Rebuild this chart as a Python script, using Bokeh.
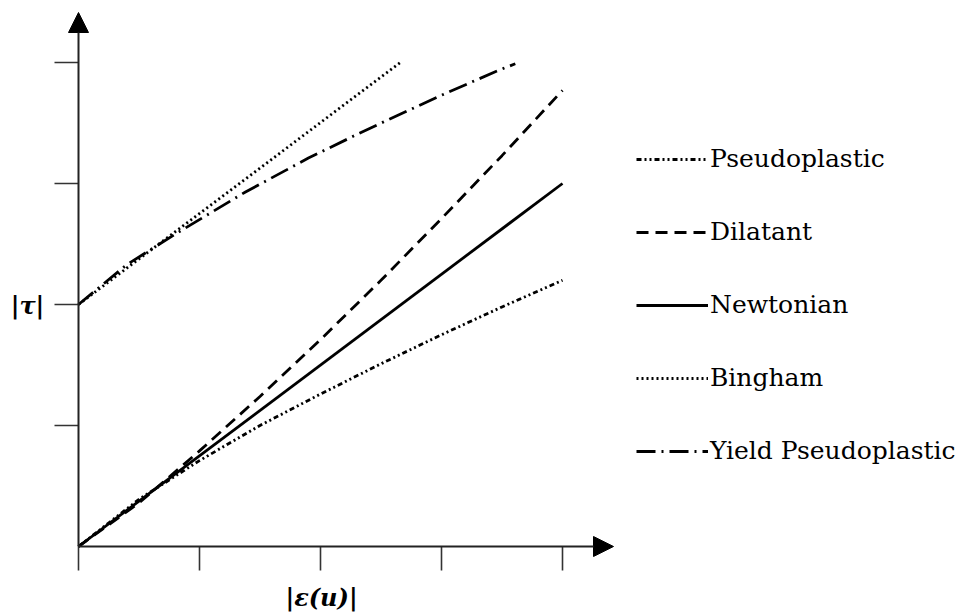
from bokeh.plotting import figure
from bokeh.models import Range1d, FixedTicker, Arrow, NormalHead, Label, Legend, LegendItem
from bokeh.embed import file_html
from bokeh.resources import INLINE

# ---- data (units of tick spacing) ----
newt_x = [0.0, 4.0]
newt_y = [0.0, 3.0]

dil_x = [0.0, 0.5, 1.0, 1.5, 2.0, 2.5, 3.0, 3.5, 4.0]
dil_y = [0.0, 0.36, 0.79, 1.24, 1.71, 2.20, 2.71, 3.23, 3.77]

pseudo_x = [0.0, 0.5, 1.0, 1.5, 2.0, 2.5, 3.0, 3.5, 4.0]
pseudo_y = [0.0, 0.39, 0.71, 1.0, 1.26, 1.51, 1.75, 1.98, 2.2]

bing_x = [0.0, 2.66]
bing_y = [2.0, 4.0]

ypseudo_x = [0.0, 0.4, 0.83, 1.38, 1.9, 2.29, 2.48, 3.0, 3.46, 3.61]
ypseudo_y = [2.0, 2.33, 2.6, 2.93, 3.21, 3.40, 3.49, 3.73, 3.93, 3.99]

x_ticks = [0, 1, 2, 3, 4]
y_ticks = [1, 2, 3, 4]

UNIT = 121.0
p = figure(width=968, height=612, output_backend="svg", toolbar_location=None,
           x_range=Range1d(-78 / UNIT, 890 / UNIT), y_range=Range1d(-66 / UNIT, 546 / UNIT),
           min_border=0)
p.outline_line_color = None
p.grid.visible = False
p.background_fill_color = "white"
p.border_fill_color = "white"

for ax, ticks in ((p.xaxis[0], x_ticks), (p.yaxis[0], y_ticks)):
    ax.fixed_location = 0
    ax.ticker = FixedTicker(ticks=ticks)
    ax.axis_line_color = None
    ax.major_tick_out = 24
    ax.major_tick_in = 0
    ax.major_tick_line_color = "#333333"
    ax.major_tick_line_width = 1.6
    ax.minor_tick_line_color = None
    ax.major_label_text_font_size = "0px"
    ax.major_label_text_alpha = 0

ink = "black"
lw = 2.8
r_pseudo = p.line(pseudo_x, pseudo_y, line_color=ink, line_width=lw, line_dash="5 3 2 3 2 3")
r_dil = p.line(dil_x, dil_y, line_color=ink, line_width=lw, line_dash="12 7")
r_newt = p.line(newt_x, newt_y, line_color=ink, line_width=lw)
r_bing = p.line(bing_x, bing_y, line_color=ink, line_width=lw, line_dash="2 3")
r_yp = p.line(ypseudo_x, ypseudo_y, line_color=ink, line_width=lw, line_dash="19 6 2 6")

# axes arrows
p.add_layout(Arrow(x_start=0, y_start=0, x_end=535 / UNIT, y_end=0, line_color="#222222", line_width=2,
                   end=NormalHead(size=20, fill_color="black", line_color="black", line_width=1)))
p.add_layout(Arrow(x_start=0, y_start=0, x_end=0, y_end=534 / UNIT, line_color="#222222", line_width=2,
                   end=NormalHead(size=20, fill_color="black", line_color="black", line_width=1)))

p.add_layout(Label(x=243 / UNIT, y=-51 / UNIT, text="|ε(u)|", text_font="DejaVu Serif",
                   text_font_style="bold italic", text_font_size="24px", text_color="black",
                   text_align="center", text_baseline="middle"))
p.add_layout(Label(x=-51 / UNIT, y=241 / UNIT, text="|τ|", text_font="DejaVu Serif",
                   text_font_style="bold italic", text_font_size="24px", text_color="black",
                   text_align="center", text_baseline="middle"))

legend = Legend(items=[
    LegendItem(label="Pseudoplastic", renderers=[r_pseudo]),
    LegendItem(label="Dilatant", renderers=[r_dil]),
    LegendItem(label="Newtonian", renderers=[r_newt]),
    LegendItem(label="Bingham", renderers=[r_bing]),
    LegendItem(label="Yield Pseudoplastic", renderers=[r_yp]),
], location=(636, 147))
legend.glyph_width = 72
legend.glyph_height = 20
legend.label_height = 20
legend.label_standoff = 2
legend.spacing = 44
legend.padding = 0
legend.margin = 0
legend.border_line_color = None
legend.background_fill_alpha = 0
legend.label_text_font = "DejaVu Serif"
legend.label_text_font_size = "25px"
legend.label_text_color = "black"
p.add_layout(legend)

open("out.html", "w").write(file_html(p, INLINE))
